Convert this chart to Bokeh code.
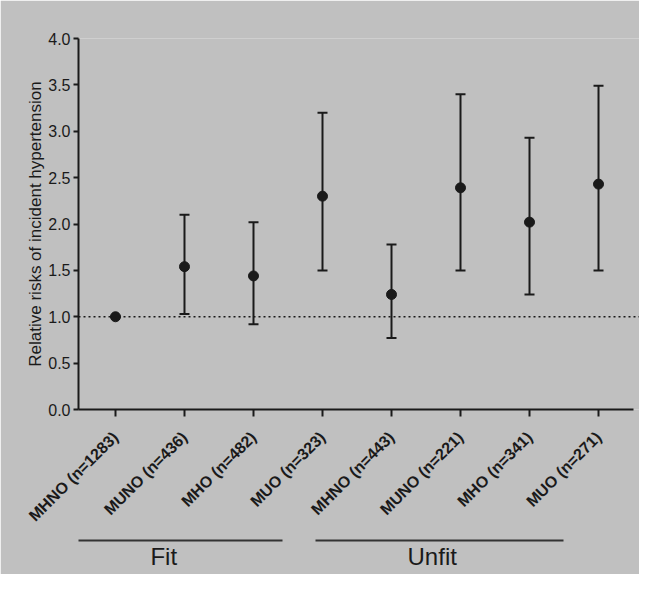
import math
from bokeh.plotting import figure
from bokeh.models import (ColumnDataSource, Range1d, FixedTicker, Whisker, TeeHead,
                          Span, CustomJSTickFormatter, LinearAxis)
from bokeh.embed import file_html
from bokeh.resources import INLINE

# ---- data ----
categories = ["MHNO (n=1283)", "MUNO (n=436)", "MHO (n=482)", "MUO (n=323)",
              "MHNO (n=443)", "MUNO (n=221)", "MHO (n=341)", "MUO (n=271)"]
positions = [1, 2, 3, 4, 5, 6, 7, 8]
rr = [1.00, 1.54, 1.44, 2.30, 1.24, 2.39, 2.02, 2.43]
ci_low = [1.00, 1.03, 0.92, 1.50, 0.77, 1.50, 1.24, 1.50]
ci_high = [1.00, 2.10, 2.02, 3.20, 1.78, 3.40, 2.93, 3.49]
y_ticks = [0.0, 0.5, 1.0, 1.5, 2.0, 2.5, 3.0, 3.5, 4.0]
reference_value = 1.0
groups = ["Fit", "Unfit"]
group_start = [0.20, 3.90]
group_end = [3.42, 7.49]
group_label_x = [1.70, 5.59]
y_label = "Relative risks of incident hypertension"

BG = "#C0C0C0"
INK = "#1a1a1a"
FONT = "Liberation Sans"

W, H = 639, 574
LEFT, TOP, BOTTOM = 78, 38, 165
X0, X1 = 0.464, 8.594
Y0, Y1 = 0.0, 4.0

p = figure(width=W, height=H, output_backend="svg", toolbar_location=None,
           x_range=Range1d(X0, X1), y_range=Range1d(Y0, Y1),
           min_border_left=LEFT, min_border_right=0, min_border_top=TOP,
           min_border_bottom=BOTTOM)
p.background_fill_color = BG
p.border_fill_color = BG
p.outline_line_color = None
p.grid.visible = False

# x axis
xa = p.xaxis[0]
xa.ticker = FixedTicker(ticks=positions)
xa.major_label_overrides = {pos: lab for pos, lab in zip(positions, categories)}
xa.major_label_orientation = math.pi / 4
xa.bounds = (X0, 8.5)
xa.axis_line_width = 2
xa.axis_line_color = INK
xa.major_tick_line_width = 2
xa.major_tick_line_color = INK
xa.major_tick_out = 7
xa.major_tick_in = 0
xa.minor_tick_line_color = None
xa.major_label_text_font = FONT
xa.major_label_text_font_size = "16px"
xa.major_label_text_font_style = "bold"
xa.major_label_text_color = INK
xa.major_label_standoff = 18

# y axis
ya = p.yaxis[0]
ya.ticker = FixedTicker(ticks=y_ticks)
ya.formatter = CustomJSTickFormatter(code="return tick.toFixed(1);")
ya.axis_line_width = 2
ya.axis_line_color = INK
ya.major_tick_line_width = 2
ya.major_tick_line_color = INK
ya.major_tick_out = 5
ya.major_tick_in = 0
ya.minor_tick_line_color = None
ya.major_label_text_font = FONT
ya.major_label_text_font_size = "16px"
ya.major_label_text_color = INK
ya.major_label_standoff = 3
ya.axis_label = y_label
ya.axis_label_text_font = FONT
ya.axis_label_text_font_size = "17px"
ya.axis_label_text_font_style = "normal"
ya.axis_label_text_color = INK
ya.axis_label_standoff = 0

# reference line at RR = 1
p.add_layout(Span(location=reference_value, dimension="width", line_color=INK,
                  line_width=1.5, line_dash="2 3"))

src = ColumnDataSource(dict(x=positions, rr=rr, lo=ci_low, hi=ci_high))
p.add_layout(Whisker(source=src, base="x", lower="lo", upper="hi",
                     line_color=INK, line_width=2,
                     upper_head=TeeHead(size=10, line_width=2, line_color=INK),
                     lower_head=TeeHead(size=10, line_width=2, line_color=INK)))
p.scatter("x", "rr", source=src, size=10, marker="circle",
          fill_color=INK, line_color=INK)

def blank_axis(**kw):
    opts = dict(ticker=FixedTicker(ticks=[]), axis_line_color=None,
                major_tick_out=0, major_tick_in=0, minor_tick_out=0, minor_tick_in=0,
                major_tick_line_color=None, minor_tick_line_color=None,
                major_label_standoff=0, major_label_text_font_size="0px")
    opts.update(kw)
    return LinearAxis(**opts)

# small invisible spacer between the category labels and the group brackets
p.add_layout(blank_axis(ticker=FixedTicker(ticks=[positions[0]]),
                        major_label_overrides={positions[0]: ""},
                        major_tick_out=7), "below")

# group brackets: zero-height axes whose line spans only the group's bounds
for a, b in zip(group_start, group_end):
    p.add_layout(blank_axis(bounds=(a, b), axis_line_color="#333333",
                            axis_line_width=2), "below")

# group names
gax = LinearAxis(ticker=FixedTicker(ticks=group_label_x),
                 major_label_overrides={x: n for x, n in zip(group_label_x, groups)},
                 axis_line_color=None, major_tick_line_color=None,
                 minor_tick_line_color=None, major_tick_out=0, major_tick_in=0,
                 minor_tick_out=0, minor_tick_in=0, major_label_standoff=2,
                 major_label_text_font=FONT, major_label_text_font_size="24px",
                 major_label_text_color=INK)
p.add_layout(gax, "below")

open("out.html", "w").write(file_html(p, INLINE))
